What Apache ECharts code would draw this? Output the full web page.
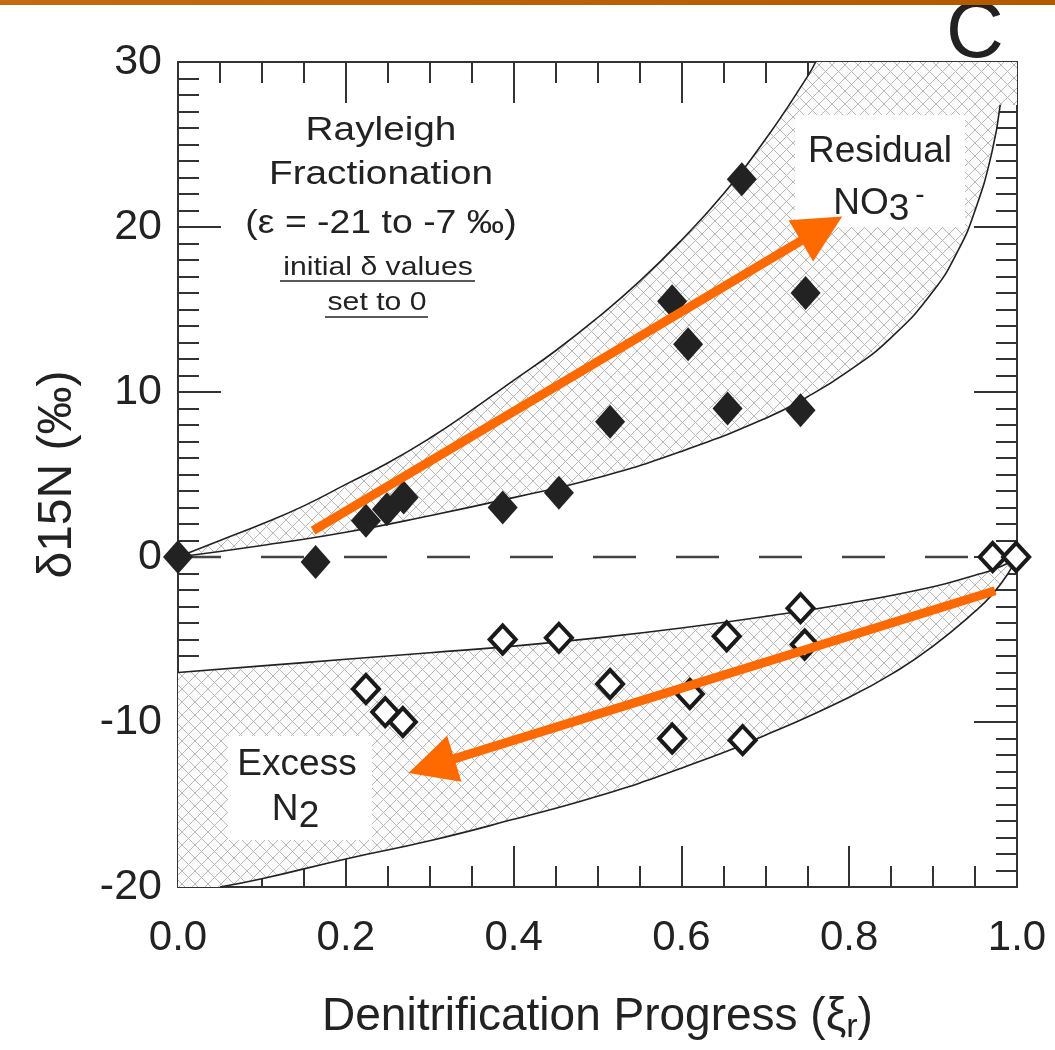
<!DOCTYPE html>
<html><head><meta charset="utf-8">
<script src="https://cdn.jsdelivr.net/npm/echarts@6/dist/echarts.min.js"></script>
<style>html,body{margin:0;padding:0;background:#fff}#c{width:1055px;height:1050px}</style>
</head><body><div id="c"></div>
<script>
// ---- data ----
const xTickLabels = ['0.0','0.2','0.4','0.6','0.8','1.0'];
const yTickLabels = ['-20','-10','0','10','20','30'];

const residualNO3 = [[0.0,0],[0.164,-0.3],[0.224,2.2],[0.249,2.9],[0.269,3.6],[0.387,3.0],[0.454,3.9],[0.515,8.2],[0.589,15.5],[0.608,12.9],[0.655,9.0],[0.672,22.9],[0.748,16.0],[0.742,8.9]];
const excessN2 = [[0.224,-8.0],[0.247,-9.4],[0.268,-10.0],[0.387,-5.0],[0.454,-4.9],[0.515,-7.7],[0.589,-11.0],[0.61,-8.3],[0.654,-4.8],[0.673,-11.1],[0.742,-3.1],[0.747,-5.3],[0.971,0],[0.999,0]];

const upperResidualCurve = [[0,0],[0.05,1.0],[0.1,2.0],[0.15,3.1],[0.2,4.4],[0.25,5.7],[0.3,7.2],[0.35,8.9],[0.4,10.7],[0.45,12.5],[0.5,14.5],[0.55,16.7],[0.6,19.2],[0.65,22.0],[0.7,25.3],[0.75,29.1],[0.76,30]];
const lowerResidualCurve = [[0,0],[0.1,0.7],[0.2,1.5],[0.3,2.5],[0.4,3.6],[0.5,4.8],[0.6,6.4],[0.7,8.4],[0.75,9.7],[0.8,11.3],[0.85,13.3],[0.9,16.1],[0.93,18.6],[0.95,21.0],[0.97,24.5],[0.98,27.4]];
const upperN2Curve = [[0,-7.0],[0.1,-6.6],[0.2,-6.2],[0.3,-5.8],[0.4,-5.4],[0.5,-4.9],[0.6,-4.3],[0.7,-3.6],[0.8,-2.8],[0.9,-1.8],[0.95,-1.1],[0.97,-0.8],[0.99,-0.35],[1.0,0]];
const lowerN2Curve = [[0.05,-20.0],[0.1,-19.5],[0.2,-18.3],[0.3,-17.2],[0.4,-15.9],[0.5,-14.5],[0.6,-12.8],[0.7,-10.8],[0.8,-8.5],[0.86,-6.8],[0.9,-5.4],[0.95,-3.3],[0.97,-2.3],[0.99,-0.95],[1.0,0]];
const residualCorner = [[1.0,30],[1.0,27.4]];
const n2Corner = [[0,-20]];

const zeroLine = [[0,0],[1,0]];
const arrowResidual = [[0.161,1.6],[0.767,19.9]];
const arrowN2 = [[0.974,-2.05],[0.302,-12.66]];

// ---- styles ----
const FONT = '"Liberation Sans", Arial, Helvetica, sans-serif';
function makeHatch(){
  const s = 13, c = document.createElement('canvas');
  c.width = s; c.height = s;
  const g = c.getContext('2d');
  g.fillStyle = '#fbfbfb'; g.fillRect(0,0,s,s);
  g.strokeStyle = '#b8b8b8'; g.lineWidth = 1;
  g.beginPath();
  g.moveTo(-1,-1); g.lineTo(s+1,s+1);
  g.moveTo(s+1,-1); g.lineTo(-1,s+1);
  g.stroke();
  return c;
}
const hatchPattern = {image: makeHatch(), repeat: 'repeat'};

const bands = [
  upperResidualCurve.concat(residualCorner, lowerResidualCurve.slice().reverse()),
  upperN2Curve.concat(lowerN2Curve.slice().reverse(), n2Corner)
];

const chart = echarts.init(document.getElementById('c'));

function curveSeries(data){
  return {type:'line', data, symbol:'none', smooth:true, silent:true, z:4,
    lineStyle:{color:'#222', width:1.6}};
}

const textEl = (text, x, y, size, opts={}) => Object.assign({
  type:'text', x, y, z:50,
  style:{text, x:0, y:0, fill:'#222', font: size + 'px ' + FONT, align:'center', verticalAlign:'middle'}
}, opts);

const axisLineStyle = {show:true, onZero:false, lineStyle:{color:'#333', width:2}};

chart.setOption({
  animation:false,
  backgroundColor:'#fff',
  grid:{left:178, right:38, top:62, bottom:160, containLabel:false},
  xAxis:[
    {type:'value', min:0, max:1, interval:0.2, position:'bottom',
     axisLine:axisLineStyle,
     axisTick:{show:true, inside:true, length:41, lineStyle:{color:'#333', width:2}},
     minorTick:{show:true, splitNumber:4, length:21, lineStyle:{color:'#333', width:2}},
     splitLine:{show:false},
     axisLabel:{margin:30, color:'#222', fontSize:42, fontFamily:FONT,
       formatter:(v)=>xTickLabels[Math.round(v/0.2)]},
     name:'{a|Denitrification Progress (ξ}{b|r}{a|)}', nameLocation:'middle', nameGap:102,
     nameTextStyle:{color:'#222', fontFamily:FONT,
       rich:{a:{fontSize:46, fontFamily:FONT, color:'#222'},
             b:{fontSize:34, fontFamily:FONT, color:'#222', padding:[22,0,0,0]}}}},
    {type:'value', min:0, max:1, interval:0.2, position:'top',
     axisLine:axisLineStyle,
     axisTick:{show:true, inside:true, length:41, lineStyle:{color:'#333', width:2}},
     minorTick:{show:true, splitNumber:4, length:21, lineStyle:{color:'#333', width:2}},
     splitLine:{show:false}, axisLabel:{show:false}}
  ],
  yAxis:[
    {type:'value', min:-20, max:30, interval:10, position:'left',
     axisLine:axisLineStyle,
     axisTick:{show:true, inside:true, length:43, lineStyle:{color:'#333', width:2}},
     minorTick:{show:true, splitNumber:10, length:21, lineStyle:{color:'#333', width:2}},
     splitLine:{show:false},
     axisLabel:{margin:16, color:'#222', fontSize:43, fontFamily:FONT,
       formatter:(v)=>yTickLabels[Math.round((v+20)/10)]},
     name:'δ15N (‰)', nameLocation:'middle', nameGap:96,
     nameTextStyle:{color:'#222', fontSize:48, fontFamily:FONT}},
    {type:'value', min:-20, max:30, interval:10, position:'right',
     axisLine:axisLineStyle,
     axisTick:{show:true, inside:true, length:43, lineStyle:{color:'#333', width:2}},
     minorTick:{show:true, splitNumber:10, length:21, lineStyle:{color:'#333', width:2}},
     splitLine:{show:false}, axisLabel:{show:false}}
  ],
  series:[
    {type:'custom', coordinateSystem:'cartesian2d', clip:true, silent:true, z:1,
     data:[[0,0],[0,0]], encode:{x:0, y:1},
     renderItem:(params, api)=>({
       type:'polygon',
       shape:{points: bands[params.dataIndex].map(p=>api.coord(p)), smooth:0},
       style:{fill: hatchPattern, stroke: null}
     })},
    curveSeries(upperResidualCurve),
    curveSeries(lowerResidualCurve),
    curveSeries(upperN2Curve),
    curveSeries(lowerN2Curve),
    {type:'line', data:zeroLine, symbol:'none', silent:true, z:3,
     lineStyle:{color:'#444', width:2.5, type:[43,40]}},
    {type:'scatter', data:residualNO3, symbol:'diamond', symbolSize:[30,34], clip:false, z:6,
     itemStyle:{color:'#222', opacity:1}},
    {type:'scatter', data:excessN2, symbol:'diamond', symbolSize:[26,28], clip:false, z:6,
     itemStyle:{color:'#fff', borderColor:'#1a1a1a', borderWidth:4, opacity:1}},
    {type:'lines', coordinateSystem:'cartesian2d', z:10, silent:true,
     symbol:['none','triangle'], symbolSize:[46,48],
     lineStyle:{color:'#FF6A00', width:9, opacity:1, curveness:0},
     data:[{coords:arrowResidual},{coords:arrowN2}]}
  ],
  graphic:[
    {type:'rect', shape:{x:0, y:0, width:1055, height:5}, z:60,
     style:{fill:new echarts.graphic.LinearGradient(0,0,1,0,[{offset:0,color:'#C46A12'},{offset:1,color:'#B45800'}])}},
    textEl('C', 975, 35, 80),
    {type:'rect', shape:{x:795, y:115, width:170, height:112}, z:2, style:{fill:'#fff'}},
    {type:'rect', shape:{x:228, y:736, width:144, height:104}, z:2, style:{fill:'#fff'}},
    textEl('Rayleigh', 381, 131, 34, {scaleX:1.14}),
    textEl('Fractionation', 381, 175, 34, {scaleX:1.14}),
    textEl('(ε = -21 to -7 ‰)', 381, 224, 34, {scaleX:1.1}),
    textEl('initial δ values', 378, 268, 26, {scaleX:1.16}),
    textEl('set to 0', 377, 303, 26, {scaleX:1.16}),
    {type:'line', z:50, shape:{x1:280, y1:281, x2:475, y2:281}, style:{stroke:'#222', lineWidth:1.5}},
    {type:'line', z:50, shape:{x1:325, y1:317, x2:428, y2:317}, style:{stroke:'#222', lineWidth:1.5}},
    textEl('Residual', 880, 152, 37),
    textEl('NO', 861, 204, 37),
    textEl('3', 899, 210, 37),
    textEl('-', 920, 195, 28),
    textEl('Excess', 297, 765, 37),
    textEl('N', 285, 810, 37),
    textEl('2', 309, 817, 37)
  ]
});
</script></body></html>
